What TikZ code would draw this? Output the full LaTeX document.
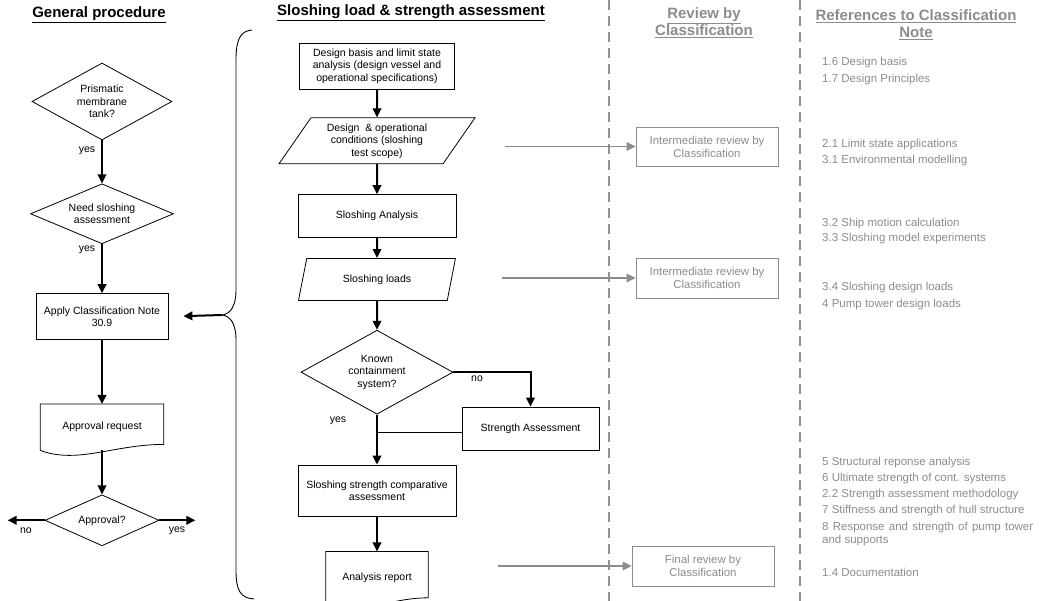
\documentclass[tikz,border=0pt]{standalone}
\usepackage{fontspec}
\setmainfont{Liberation Sans}
\usepackage{xcolor}
\usetikzlibrary{arrows.meta,positioning,shapes.geometric,calc}
\definecolor{ink}{HTML}{000000}
\definecolor{review}{HTML}{8C8C8C}
\definecolor{lanegray}{HTML}{929292}

% document shape: wavy lower edge
\newcommand{\docoutline}[1]{%
  \draw[ink, line width=0.8pt] (#1.north west) -- (#1.north east)
    -- ($(#1.south east)+(0,6)$)
    .. controls ($(#1.south west)!0.6!(#1.south east)+(0,6)$)
    and ($(#1.south west)!0.3!(#1.south east)+(0,-14)$) .. (#1.south west)
    -- cycle;}

\begin{document}
\begin{tikzpicture}[x=1pt, y=1pt,
  font=\fontsize{10.5}{12.5}\selectfont,
  heading/.style={font=\fontsize{15}{17}\selectfont\bfseries, align=center, inner sep=0pt},
  procbox/.style={draw=ink, line width=0.8pt, align=center, inner sep=2pt},
  iobox/.style={trapezium, trapezium stretches body, draw=ink, line width=0.8pt, align=center, inner sep=1pt},
  decide/.style={diamond, draw=ink, line width=0.8pt, align=center, inner sep=0pt},
  docbox/.style={align=center, inner sep=2pt},
  reviewbox/.style={draw=review, line width=0.8pt, text=review, align=center, font=\fontsize{11.4}{13}\selectfont, minimum width=142pt, minimum height=39pt},
  reftext/.style={text=review, anchor=base west, inner sep=0pt, font=\fontsize{11.5}{14}\selectfont},
  lbl/.style={inner sep=1pt},
  arr/.style={-{Triangle[length=9pt,width=8.5pt]}, line width=2pt, ink},
  garr/.style={-{Triangle[length=9pt,width=8.5pt]}, line width=1.7pt, review},
  divider/.style={lanegray, line width=2.6pt, dash pattern=on 10pt off 6pt},
  bracepath/.style={ink, line width=0.9pt}
]
  \useasboundingbox (0,0) rectangle (1039,-601);

  % column headings
  \node[heading] (headgen) at (99,-15) {\underline{General procedure}};
  \node[heading] (headslosh) at (411,-13) {\underline{Sloshing load \& strength assessment}};
  \node[heading, text=review] (headrev) at (704,-22.5) {\underline{Review by}\\\underline{Classification}};
  \node[heading, text=review] (headref) at (916,-24.5) {\underline{References to Classification}\\\underline{Note}};

  \draw[divider] (609,0) -- (609,-601);
  \draw[divider] (800,0) -- (800,-601);

  % general procedure
  \node[decide, shape aspect=1.8, minimum width=140pt, minimum height=77pt] (prism) at (102,-101.5) {Prismatic\\membrane\\tank?};
  \node[decide, shape aspect=2.4, minimum width=143pt, minimum height=60pt, below=43pt of prism] (need) {Need sloshing\\assessment};
  \node[procbox, minimum width=132pt, minimum height=46pt, below=49pt of need] (apply) {Apply Classification Note\\30.9};
  \node[docbox, minimum width=123pt, minimum height=46pt, below=64pt of apply] (request) {Approval request};
  \node[decide, shape aspect=2.2, minimum width=114pt, minimum height=51pt, below=44pt of request] (approve) {Approval?};
  \node[lbl] (yes1) at (87,-151) {yes};
  \node[lbl] (yes2) at (87,-250) {yes};
  \node[lbl] (noleft) at (26,-531) {no};
  \node[lbl] (yesright) at (177,-531) {yes};
  \coordinate[left=37pt of approve.west] (noend);
  \coordinate[right=36pt of approve.east] (yesend);
  \docoutline{request}
  \draw[arr] (prism) -- (need);
  \draw[arr] (need) -- (apply);
  \draw[arr] (apply) -- (request);
  \draw[arr] (request) -- (approve);
  \draw[arr] (approve.west) -- (noend);
  \draw[arr] (approve.east) -- (yesend);

  % brace round the assessment
  \coordinate (bracetip) at (222,-315);
  \draw[bracepath] (252,-30) .. controls (240,-31) and (236,-40) .. (236,-60)
    -- (236,-290) .. controls (236,-307) and (230,-314) .. (bracetip)
    .. controls (230,-316) and (236,-323) .. (236,-340)
    -- (236,-570) .. controls (236,-590) and (240,-598) .. (254,-599);
  \draw[arr, shorten >=15pt] (bracetip) -- (apply.east);

  % sloshing load & strength assessment
  \node[procbox, minimum width=155pt, minimum height=46pt] (basis) at (377,-66) {Design basis and limit state\\analysis (design vessel and\\operational specifications)};
  \node[iobox, trapezium left angle=49, trapezium right angle=131, minimum width=196pt, minimum height=46pt, below=28pt of basis] (cond) {Design~ \& operational\\conditions (sloshing\\test scope)};
  \node[procbox, minimum width=158pt, minimum height=43pt, below=30pt of cond] (analysis) {Sloshing Analysis};
  \node[iobox, trapezium left angle=55, trapezium right angle=125, minimum width=157pt, minimum height=42pt, below=20pt of analysis] (loads) {Sloshing loads};
  \node[decide, shape aspect=1.8, minimum width=152pt, minimum height=84pt, below=29pt of loads] (known) {Known\\containment\\system?};
  \node[procbox, minimum width=158pt, minimum height=51pt, below=50pt of known] (compare) {Sloshing strength comparative\\assessment};
  \node[docbox, minimum width=102pt, minimum height=52pt, below=35pt of compare] (report) {Analysis report};
  \node[procbox, minimum width=137pt, minimum height=43pt] (strength) at (530.5,-428.5) {Strength Assessment};
  \node[lbl] (nomid) at (477,-379) {no};
  \node[lbl] (yesmid) at (338,-421) {yes};
  \coordinate[below=4pt of strength.west] (merge);
  \docoutline{report}
  \draw[arr] (basis) -- (cond);
  \draw[arr] (cond) -- (analysis);
  \draw[arr] (analysis) -- (loads);
  \draw[arr] (loads) -- (known);
  \draw[arr] (known.east) -| (strength.north);
  \draw[arr] (known) -- (compare);
  \draw[ink, line width=0.8pt] (merge) -- (merge -| known.south);
  \draw[arr] (compare) -- (report);

  % review by classification
  \node[reviewbox] (review1) at (707,-146.5) {Intermediate review by\\Classification};
  \node[reviewbox, minimum height=40pt] (review2) at (707,-278) {Intermediate review by\\Classification};
  \node[reviewbox, minimum height=40pt] (review3) at (703,-566) {Final review by\\Classification};
  \coordinate (feed1) at (505,-146.5);
  \coordinate (feed2) at (502,-278);
  \coordinate (feed3) at (498,-566);
  \draw[garr] (feed1) -- (review1.west);
  \draw[garr] (feed2) -- (review2.west);
  \draw[garr] (feed3) -- (review3.west);

  % references to classification note
  \node[reftext] (ref1) at (822,-66) {1.6 Design basis};
  \node[reftext] (ref2) at (822,-83) {1.7 Design Principles};
  \node[reftext] (ref3) at (822,-148) {2.1 Limit state applications};
  \node[reftext] (ref4) at (822,-164) {3.1 Environmental modelling};
  \node[reftext] (ref5) at (822,-227) {3.2 Ship motion calculation};
  \node[reftext] (ref6) at (822,-242) {3.3 Sloshing model experiments};
  \node[reftext] (ref7) at (822,-291) {3.4 Sloshing design loads};
  \node[reftext] (ref8) at (822,-308) {4 Pump tower design loads};
  \node[reftext] (ref9) at (822,-465) {5 Structural reponse analysis};
  \node[reftext] (ref10) at (822,-481) {6 Ultimate strength of cont. systems};
  \node[reftext] (ref11) at (822,-497) {2.2 Strength assessment methodology};
  \node[reftext] (ref12) at (822,-513) {7 Stiffness and strength of hull structure};
  \node[reftext] (ref13) at (822,-530) {\makebox[211pt][s]{8 Response and strength of pump tower}};
  \node[reftext] (ref14) at (822,-543) {and supports};
  \node[reftext] (ref15) at (822,-576) {1.4 Documentation};
\end{tikzpicture}
\end{document}
